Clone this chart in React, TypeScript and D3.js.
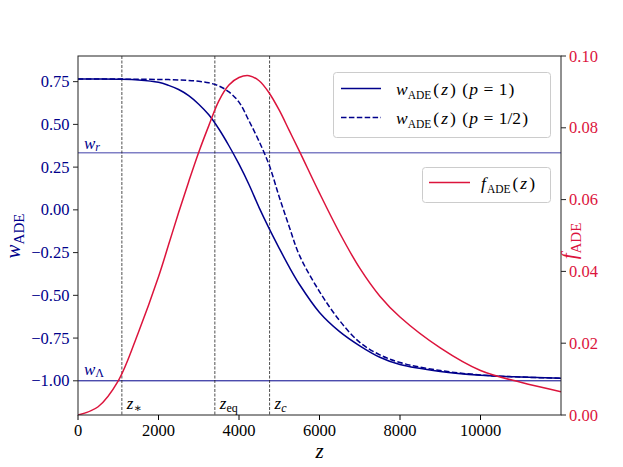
import React from "react";
import * as d3 from "d3";

// redshift grid the curves were read at
const zGrid = [0, 500, 1000, 1500, 2000, 2250, 2500, 2750, 3000, 3250, 3500, 3750, 4000, 4250, 4500, 4750, 5000, 5250, 5500, 6000, 6500, 7000, 7500, 8000, 9000, 10000, 11000, 12000];

// w_ADE(z), p = 1
const wP1 = [0.765, 0.765, 0.764, 0.76, 0.746, 0.728, 0.704, 0.668, 0.618, 0.556, 0.473, 0.375, 0.267, 0.147, 0.013, -0.11, -0.225, -0.335, -0.435, -0.6, -0.712, -0.795, -0.862, -0.905, -0.945, -0.967, -0.978, -0.985];
// w_ADE(z), p = 1/2
const wHalf = [0.765, 0.765, 0.765, 0.764, 0.763, 0.762, 0.76, 0.757, 0.752, 0.743, 0.725, 0.69, 0.63, 0.52, 0.4, 0.262, 0.075, -0.1, -0.265, -0.478, -0.648, -0.775, -0.848, -0.893, -0.94, -0.966, -0.978, -0.985];
// f_ADE(z)
const fADE = [0, 0.0023, 0.0095, 0.023, 0.0385, 0.0474, 0.0564, 0.065, 0.0732, 0.0806, 0.0875, 0.0919, 0.094, 0.0945, 0.0931, 0.0897, 0.0849, 0.0792, 0.0735, 0.0618, 0.0507, 0.0409, 0.0331, 0.0273, 0.0187, 0.0124, 0.0091, 0.0065];

const xTicks = [0, 2000, 4000, 6000, 8000, 10000];
const wTicks = [-1.0, -0.75, -0.5, -0.25, 0.0, 0.25, 0.5, 0.75];
const fTicks = [0, 0.02, 0.04, 0.06, 0.08, 0.1];

const wR = 1 / 3;
const wLambda = -1;
const zMarks = [
  { z: 1090, name: "*" },
  { z: 3400, name: "eq" },
  { z: 4760, name: "c" },
];

const NAVY = "#00008b";
const RED = "#dc143c";
const FONT = "'Times New Roman', 'Liberation Serif', 'DejaVu Serif', serif";

const width = 623;
const height = 467;
const margin = { left: 78, right: 62, top: 56, bottom: 52 };

export default function App() {
  const x = d3.scaleLinear().domain([0, 12000]).range([margin.left, width - margin.right]);
  const yW = d3.scaleLinear().domain([-1.2, 0.9]).range([height - margin.bottom, margin.top]);
  const yF = d3.scaleLinear().domain([0, 0.1]).range([height - margin.bottom, margin.top]);

  const x0 = x.range()[0];
  const x1 = x.range()[1];
  const yTop = yW.range()[1];
  const yBot = yW.range()[0];

  const wLine = d3
    .line<number>()
    .x((_, i) => x(zGrid[i]))
    .y((d) => yW(d))
    .curve(d3.curveCatmullRom.alpha(0.5));
  const fLine = d3
    .line<number>()
    .x((_, i) => x(zGrid[i]))
    .y((d) => yF(d))
    .curve(d3.curveCatmullRom.alpha(0.5));

  const fmtW = (v: number) => d3.format(".2f")(v).replace("-", "\u2212");
  const fmtF = (v: number) => d3.format(".2f")(v);

  // legend label w_ADE(z) (p = ...)
  const wLabel = (ny: number, p: string) => (
    <text x={396} y={ny + 6} fontSize={17.5} fontFamily={FONT} fill="#000">
      <tspan fontStyle="italic">w</tspan>
      <tspan fontSize={11.5} dy={4}>ADE</tspan>
      <tspan dy={-4} dx={2}>(</tspan>
      <tspan fontStyle="italic" dx={2}>z</tspan>
      <tspan dx={2}>)</tspan>
      <tspan dx={6.5}>(</tspan>
      <tspan fontStyle="italic" dx={1}>p</tspan>
      <tspan dx={5.5}>=</tspan>
      <tspan dx={5.5}>{p}</tspan>
      <tspan dx={1}>)</tspan>
    </text>
  );

  return (
    <svg width={width} height={height} style={{ position: "absolute", left: 0, top: 0, background: "#fff" }}>
      <defs>
        <clipPath id="plot">
          <rect x={x0} y={yTop} width={x1 - x0} height={yBot - yTop} />
        </clipPath>
      </defs>

      <g clipPath="url(#plot)">
        {/* reference w levels */}
        <line x1={x0} x2={x1} y1={yW(wR)} y2={yW(wR)} stroke={NAVY} strokeOpacity={0.5} strokeWidth={1.5} />
        <line x1={x0} x2={x1} y1={yW(wLambda)} y2={yW(wLambda)} stroke={NAVY} strokeWidth={1} />

        {zMarks.map((m) => (
          <line key={m.name} x1={x(m.z)} x2={x(m.z)} y1={yTop} y2={yBot} stroke="#222" strokeWidth={0.8} strokeDasharray="3,1.5" />
        ))}

        <path d={wLine(wP1) ?? ""} fill="none" stroke={NAVY} strokeWidth={1.5} />
        <path d={wLine(wHalf) ?? ""} fill="none" stroke={NAVY} strokeWidth={1.5} strokeDasharray="5.5,2.4" />
        <path d={fLine(fADE) ?? ""} fill="none" stroke={RED} strokeWidth={1.5} />
      </g>

      {/* annotations */}
      <text x={84} y={yW(wR) - 4} fontSize={17} fontFamily={FONT} fill={NAVY}>
        <tspan fontStyle="italic">w</tspan>
        <tspan fontSize={12} dy={2} fontStyle="italic">r</tspan>
      </text>
      <text x={84} y={yW(wLambda) - 5.5} fontSize={17} fontFamily={FONT} fill={NAVY}>
        <tspan fontStyle="italic">w</tspan>
        <tspan fontSize={12} dy={2}>Λ</tspan>
      </text>
      {zMarks.map((m) => (
        <text key={"t" + m.name} x={x(m.z) + 5} y={yBot - 6} fontSize={17} fontFamily={FONT} fill="#000">
          <tspan fontStyle="italic">z</tspan>
          <tspan fontSize={12} dy={3} fontStyle={m.name === "c" ? "italic" : "normal"}>{m.name === "*" ? "∗" : m.name}</tspan>
        </text>
      ))}

      {/* spines */}
      <rect x={x0} y={yTop} width={x1 - x0} height={yBot - yTop} fill="none" stroke="#222" strokeWidth={1} />

      {/* x axis */}
      {xTicks.map((t) => (
        <g key={"x" + t}>
          <line x1={x(t)} x2={x(t)} y1={yBot} y2={yBot + 5} stroke="#000" />
          <text x={x(t)} y={yBot + 21} textAnchor="middle" fontSize={16.5} fontFamily={FONT} fill="#000">{t}</text>
        </g>
      ))}
      <text x={(x0 + x1) / 2} y={yBot + 43} textAnchor="middle" fontSize={21} fontStyle="italic" fontFamily={FONT}>z</text>

      {/* left axis */}
      {wTicks.map((t) => (
        <g key={"w" + t}>
          <line x1={x0 - 5} x2={x0} y1={yW(t)} y2={yW(t)} stroke="#222" />
          <text x={x0 - 8.5} y={yW(t) + 5.5} textAnchor="end" fontSize={16.5} fontFamily={FONT} fill={NAVY}>{fmtW(t)}</text>
        </g>
      ))}
      <text transform={`translate(${20},${236}) rotate(-90)`} textAnchor="middle" fontSize={21} fontFamily={FONT} fill={NAVY}>
        <tspan fontStyle="italic">w</tspan>
        <tspan fontSize={15} dy={4}>ADE</tspan>
      </text>

      {/* right axis */}
      {fTicks.map((t) => (
        <g key={"f" + t}>
          <line x1={x1} x2={x1 + 5} y1={yF(t)} y2={yF(t)} stroke="#222" />
          <text x={x1 + 8} y={yF(t) + 5.5} fontSize={16.5} fontFamily={FONT} fill={RED}>{fmtF(t)}</text>
        </g>
      ))}
      <text transform={`translate(${576},${241}) rotate(-90)`} textAnchor="middle" fontSize={21} fontFamily={FONT} fill={RED}>
        <tspan fontStyle="italic">f</tspan>
        <tspan fontSize={15} dy={5}>ADE</tspan>
      </text>

      {/* legend for w */}
      <rect x={333.5} y={72.5} width={217} height={65} rx={3} fill="#fff" fillOpacity={0.8} stroke="#ccc" />
      <line x1={341} x2={381} y1={88.5} y2={88.5} stroke={NAVY} strokeWidth={1.5} />
      <line x1={341} x2={381} y1={117.5} y2={117.5} stroke={NAVY} strokeWidth={1.5} strokeDasharray="5.5,2.4" />
      {wLabel(88.5, "1")}
      {wLabel(117.5, "1/2")}

      {/* legend for f */}
      <rect x={422.5} y={167.5} width={128} height={35} rx={3} fill="#fff" fillOpacity={0.8} stroke="#ccc" />
      <line x1={429} x2={470} y1={182.5} y2={182.5} stroke={RED} strokeWidth={1.5} />
      <text x={481} y={188.5} fontSize={17.5} fontFamily={FONT} fill="#000">
        <tspan fontStyle="italic">f</tspan>
        <tspan fontSize={11.5} dy={4} dx={1}>ADE</tspan>
        <tspan dy={-4} dx={2}>(</tspan>
        <tspan fontStyle="italic" dx={2}>z</tspan>
        <tspan dx={2}>)</tspan>
      </text>
    </svg>
  );
}
